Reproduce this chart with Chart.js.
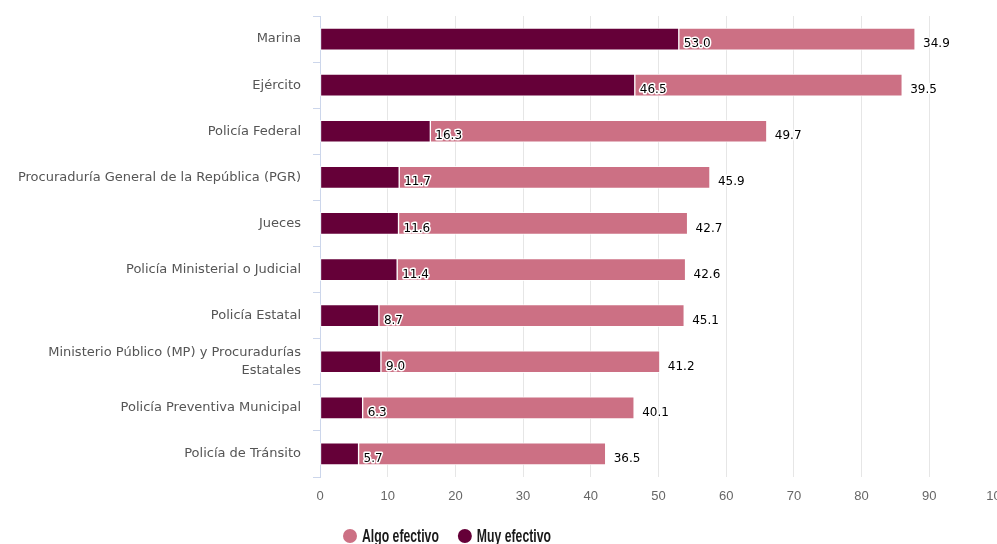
<!DOCTYPE html>
<html>
<head>
<meta charset="utf-8">
<script src="https://cdn.jsdelivr.net/npm/chart.js@4.4.1/dist/chart.umd.min.js"></script>
<style>
    html, body { margin: 0; padding: 0; background: #fff; }
    #wrap { width: 997px; height: 544px; }
</style>
</head>
<body>
<div id="wrap"><canvas id="chart" width="997" height="544"></canvas></div>
<script>
// Categories (top to bottom)
const categories = [
    'Marina',
    'Ejército',
    'Policía Federal',
    'Procuraduría General de la República (PGR)',
    'Jueces',
    'Policía Ministerial o Judicial',
    'Policía Estatal',
    ['Ministerio Público (MP) y Procuradurías', 'Estatales'],
    'Policía Preventiva Municipal',
    'Policía de Tránsito'
];

// Series values (%)
const muyEfectivo = [53.0, 46.5, 16.3, 11.7, 11.6, 11.4, 8.7, 9.0, 6.3, 5.7];
const algoEfectivo = [34.9, 39.5, 49.7, 45.9, 42.7, 42.6, 45.1, 41.2, 40.1, 36.5];

// X axis ticks
const xTicks = [0, 10, 20, 30, 40, 50, 60, 70, 80, 90, 100];

const darkColor = '#650038';
const pinkColor = '#cc7084';

/**
 * Value labels drawn next to each segment
 */
const valueLabels = {
    id: 'valueLabels',
    afterDatasetsDraw(chart) {
        const ctx = chart.ctx;
        ctx.save();
        ctx.font = '12px "DejaVu Sans", Verdana, sans-serif';
        ctx.textBaseline = 'middle';
        ctx.textAlign = 'left';
        ctx.lineJoin = 'round';
        chart.data.datasets.forEach((ds, i) => {
            const meta = chart.getDatasetMeta(i);
            meta.data.forEach((bar, j) => {
                const txt = ds.data[j].toFixed(1);
                const x = bar.x + (i === 0 ? 5 : 8);
                const y = bar.y + 5;
                ctx.strokeStyle = '#fff';
                ctx.lineWidth = 3;
                ctx.strokeText(txt, x, y);
                ctx.fillStyle = '#000';
                ctx.fillText(txt, x, y);
            });
        });
        ctx.restore();
    }
};

/**
 * Legend drawn below the axis, reversed order, narrow bold text
 */
const bottomLegend = {
    id: 'bottomLegend',
    afterDraw(chart) {
        const ctx = chart.ctx;
        const items = chart.data.datasets.slice().reverse();
        const y = 537;
        const squeeze = 0.68;
        let x = 343;
        ctx.save();
        ctx.textBaseline = 'middle';
        ctx.font = 'bold 18px "Liberation Sans", sans-serif';
        items.forEach(ds => {
            ctx.fillStyle = ds.backgroundColor;
            ctx.beginPath();
            ctx.arc(x + 7, y - 1, 7, 0, Math.PI * 2);
            ctx.fill();
            const tx = x + 19;
            const w = ctx.measureText(ds.label).width * squeeze;
            ctx.save();
            ctx.translate(tx, y);
            ctx.scale(squeeze, 1);
            ctx.fillStyle = '#1a1a1a';
            ctx.fillText(ds.label, 0, 0);
            ctx.restore();
            x = tx + w + 19;
        });
        ctx.restore();
    }
};

new Chart(document.getElementById('chart'), {
    type: 'bar',
    data: {
        labels: categories,
        datasets: [
            {
                label: 'Muy efectivo',
                data: muyEfectivo,
                backgroundColor: darkColor,
                borderColor: 'rgba(255,255,255,0.8)',
                borderWidth: 1,
                borderSkipped: false,
                barThickness: 22
            },
            {
                label: 'Algo efectivo',
                data: algoEfectivo,
                backgroundColor: pinkColor,
                borderColor: 'rgba(255,255,255,0.8)',
                borderWidth: 1,
                borderSkipped: false,
                barThickness: 22
            }
        ]
    },
    options: {
        indexAxis: 'y',
        responsive: false,
        animation: false,
        layout: {padding: {top: 16, right: 0, left: 0, bottom: 40}},
        plugins: {
            tooltip: {enabled: false},
            legend: {display: false}
        },
        scales: {
            x: {
                stacked: true,
                min: 0,
                max: 100,
                afterBuildTicks(scale) {
                    scale.ticks = xTicks.map(v => ({value: v}));
                },
                afterFit(scale) {
                    scale.paddingLeft = 0;
                    scale.paddingRight = 0;
                    scale.height = 27;
                },
                border: {display: false},
                grid: {color: '#e6e6e6', drawTicks: false},
                ticks: {
                    padding: 12,
                    maxRotation: 0,
                    color: '#666',
                    font: {family: '"Liberation Sans", sans-serif', size: 13}
                }
            },
            y: {
                stacked: true,
                afterFit(scale) {
                    scale.width = 320;
                    scale.paddingTop = 0;
                    scale.paddingBottom = 0;
                },
                border: {display: true, color: '#ccd6eb'},
                grid: {
                    offset: true,
                    drawOnChartArea: false,
                    drawTicks: true,
                    tickLength: 7,
                    color: '#ccd6eb'
                },
                ticks: {
                    padding: 12,
                    color: '#555',
                    font: {family: '"DejaVu Sans", Verdana, sans-serif', size: 13, lineHeight: 1.4}
                }
            }
        }
    },
    plugins: [valueLabels, bottomLegend]
});
</script>
</body>
</html>
